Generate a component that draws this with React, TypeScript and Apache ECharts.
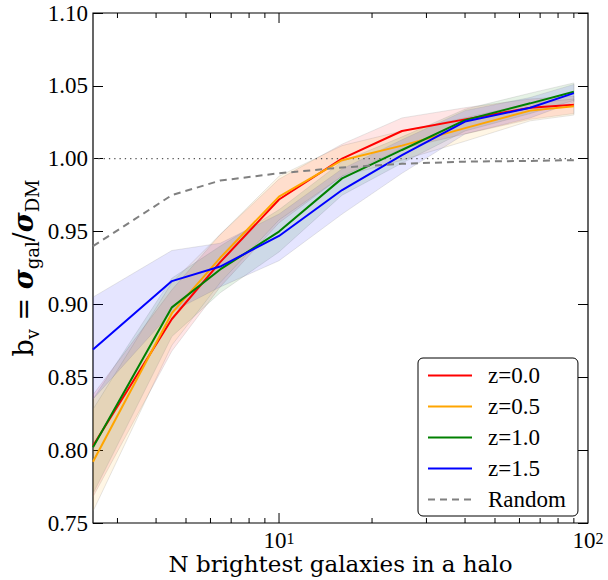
import React, { useEffect, useRef } from "react";
import * as echarts from "echarts";

// ---- data ----
const nGal = [2.5, 4.5, 6.45, 10, 16, 25, 40, 65, 90];

const z00 = [0.803, 0.890, 0.929, 0.972, 1.000, 1.019, 1.027, 1.035, 1.037];
const z05 = [0.792, 0.894, 0.932, 0.974, 0.999, 1.009, 1.021, 1.033, 1.036];
const z10 = [0.802, 0.898, 0.924, 0.950, 0.9865, 1.006, 1.0265, 1.038, 1.046];
const z15 = [0.869, 0.916, 0.926, 0.947, 0.9785, 1.0025, 1.0255, 1.035, 1.045];
const randomVals = [0.940, 0.975, 0.985, 0.990, 0.994, 0.9965, 0.998, 0.9985, 0.999];

const z00Lo = [0.768, 0.868, 0.912, 0.956, 0.988, 1.007, 1.017, 1.027, 1.031];
const z00Hi = [0.838, 0.910, 0.948, 0.986, 1.010, 1.028, 1.035, 1.041, 1.043];
const z05Lo = [0.758, 0.872, 0.915, 0.958, 0.988, 0.999, 1.012, 1.026, 1.030];
const z05Hi = [0.828, 0.915, 0.948, 0.988, 1.009, 1.019, 1.028, 1.038, 1.041];
const z10Lo = [0.770, 0.878, 0.908, 0.936, 0.975, 0.997, 1.019, 1.031, 1.040];
const z10Hi = [0.835, 0.918, 0.940, 0.965, 0.998, 1.015, 1.034, 1.045, 1.052];
const z15Lo = [0.835, 0.895, 0.912, 0.930, 0.962, 0.990, 1.017, 1.028, 1.039];
const z15Hi = [0.905, 0.937, 0.942, 0.962, 0.993, 1.013, 1.033, 1.042, 1.051];

const refLevel = 1.0;
const refRange = [2.5, 90];

const majorXTicks = [10];
const minorXTicks = [3, 4, 5, 6, 7, 8, 9, 20, 30, 40, 50, 60, 70, 80, 90];

const TICK_FONT = '"Liberation Serif", serif';
const TITLE_FONT = '"DejaVu Serif", "Liberation Serif", serif';

const pairs = (ys: number[]) => nGal.map((x, i) => [x, ys[i]]);

function band(name: string, lo: number[], hi: number[], fill: string) {
  return {
    type: "custom",
    name,
    silent: true,
    z: 1,
    data: [[nGal[0], lo[0]]],
    encode: { x: 0, y: 1 },
    renderItem: (params: any, api: any) => {
      if (params.dataIndex !== 0) return null;
      const pts: number[][] = [];
      for (let i = 0; i < nGal.length; i++) pts.push(api.coord([nGal[i], hi[i]]));
      for (let i = nGal.length - 1; i >= 0; i--) pts.push(api.coord([nGal[i], lo[i]]));
      return {
        type: "polygon",
        shape: { points: pts },
        style: { fill, stroke: "rgba(120,120,120,0.18)", lineWidth: 1 },
      };
    },
  };
}

function line(name: string, ys: number[], color: string, extra: any = {}) {
  return {
    type: "line",
    name,
    data: pairs(ys),
    symbol: "none",
    showSymbol: false,
    z: 3,
    lineStyle: { color, width: 2, ...extra },
    itemStyle: { color },
  };
}

export default function App() {
  const ref = useRef<HTMLDivElement>(null);
  useEffect(() => {
    if (!ref.current) return;
    const chart = echarts.init(ref.current, undefined, { renderer: "svg" });
    const tickData = [
      ...majorXTicks.map((v) => [v, 1]),
      ...minorXTicks.map((v) => [v, 0]),
    ];
    const option: any = {
      animation: false,
      backgroundColor: "#fff",
      grid: {
        left: 93,
        right: 20,
        top: 13,
        bottom: 57,
        containLabel: false,
        outerBoundsMode: "none",
        show: true,
        borderColor: "#000",
        borderWidth: 1.2,
        backgroundColor: "transparent",
      },
      xAxis: {
        type: "log",
        logBase: 10,
        min: 2.5,
        max: 100,
        axisLine: { show: false },
        axisTick: { show: false },
        splitLine: { show: false },
        axisLabel: {
          showMinLabel: false,
          showMaxLabel: true,
          hideOverlap: false,
          margin: 7,
          color: "#000",
          formatter: (v: number) => {
            const l = Math.log10(v);
            const e = Math.round(l);
            if (Math.abs(l - e) < 1e-6 && e === 1) return "{b|10}{s|1}";
            if (Math.abs(l - e) < 1e-6 && e === 2) return "{b|10}{s|2}";
            return "";
          },
          rich: {
            b: { fontFamily: TICK_FONT, fontSize: 23, color: "#000", lineHeight: 20 },
            s: { fontFamily: TICK_FONT, fontSize: 16, color: "#000", lineHeight: 14, verticalAlign: "top" },
          },
        },
        name: "N brightest galaxies in a halo",
        nameLocation: "middle",
        nameGap: 29,
        nameMoveOverlap: false,
        nameTextStyle: { fontFamily: TITLE_FONT, fontSize: 23, color: "#000" },
      },
      yAxis: [
        {
          type: "value",
          min: 0.75,
          max: 1.1,
          interval: 0.05,
          axisLine: { show: false },
          axisTick: { show: true, inside: true, length: 10, lineStyle: { color: "#000", width: 1 } },
          splitLine: { show: false },
          axisLabel: {
            margin: 5,
            color: "#000",
            fontFamily: TICK_FONT,
            fontSize: 23,
            formatter: (v: number) => v.toFixed(2),
          },
          name: "{r|b}{sub|v}{r| = }{sig|σ}{sub|gal}{r|/}{sig|σ}{sub|DM}",
          nameLocation: "middle",
          nameGap: 52,
          nameMoveOverlap: false,
          nameTextStyle: {
            rich: {
              r: { fontFamily: TITLE_FONT, fontSize: 27, color: "#000", lineHeight: 36 },
              sig: {
                fontFamily: TITLE_FONT,
                fontSize: 27,
                fontWeight: "bold",
                fontStyle: "italic",
                color: "#000",
                lineHeight: 36,
              },
              sub: {
                fontFamily: TITLE_FONT,
                fontSize: 18,
                color: "#000",
                lineHeight: 18,
                verticalAlign: "bottom",
              },
            },
          },
        },
        {
          type: "value",
          position: "right",
          min: 0.75,
          max: 1.1,
          interval: 0.05,
          axisLine: { show: false },
          axisTick: { show: true, inside: true, length: 10, lineStyle: { color: "#000", width: 1 } },
          splitLine: { show: false },
          axisLabel: { show: false },
        },
      ],
      legend: {
        orient: "vertical",
        left: 418,
        top: 358,
        data: ["z=0.0", "z=0.5", "z=1.0", "z=1.5", "Random"],
        selectedMode: false,
        itemWidth: 44,
        itemHeight: 14,
        itemGap: 8,
        padding: [6, 12, 5, 9],
        backgroundColor: "#fff",
        borderColor: "#000",
        borderWidth: 1,
        borderRadius: 5,
        itemStyle: { color: "rgba(0,0,0,0)", borderWidth: 0, opacity: 0 },
        textStyle: {
          fontFamily: TICK_FONT,
          fontSize: 23,
          lineHeight: 22,
          color: "#000",
          padding: [0, 0, 0, 11],
        },
      },
      series: [
        band("z=0.0 band", z00Lo, z00Hi, "rgba(255,0,0,0.10)"),
        band("z=0.5 band", z05Lo, z05Hi, "rgba(255,165,0,0.10)"),
        band("z=1.0 band", z10Lo, z10Hi, "rgba(0,128,0,0.10)"),
        band("z=1.5 band", z15Lo, z15Hi, "rgba(0,0,255,0.10)"),
        {
          type: "line",
          name: "ref",
          data: refRange.map((x) => [x, refLevel]),
          symbol: "none",
          z: 2,
          lineStyle: { color: "#555", width: 1.3, type: [1.3, 4] },
        },
        line("z=0.0", z00, "#ff0000"),
        line("z=0.5", z05, "#ffa500"),
        line("z=1.0", z10, "#008000"),
        line("z=1.5", z15, "#0000ff"),
        line("Random", randomVals, "#808080", { type: [7, 5] }),
        {
          type: "custom",
          name: "xticks",
          silent: true,
          z: 4,
          data: tickData,
          encode: { x: 0 },
          renderItem: (params: any, api: any) => {
            const v = api.value(0);
            const len = api.value(1) ? 10 : 5;
            const b = api.coord([v, 0.75]);
            const t = api.coord([v, 1.1]);
            return {
              type: "group",
              children: [
                { type: "line", shape: { x1: b[0], y1: b[1], x2: b[0], y2: b[1] - len }, style: { stroke: "#000", lineWidth: 1 } },
                { type: "line", shape: { x1: t[0], y1: t[1], x2: t[0], y2: t[1] + len }, style: { stroke: "#000", lineWidth: 1 } },
              ],
            };
          },
        },
      ],
    };
    chart.setOption(option);
    return () => chart.dispose();
  }, []);
  return (
    <div
      ref={ref}
      style={{ position: "absolute", left: 0, top: 0, width: 608, height: 580 }}
    />
  );
}
